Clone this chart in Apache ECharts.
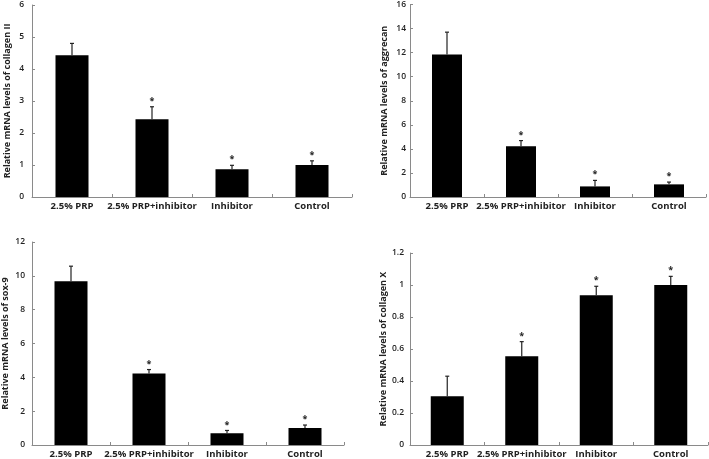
<!DOCTYPE html>
<html><head><meta charset="utf-8">
<script src="https://cdn.jsdelivr.net/npm/echarts@6/dist/echarts.min.js"></script>
<style>html,body{margin:0;padding:0;background:#fff}#c{width:709px;height:459px}</style>
</head><body><div id="c"></div>
<script>
const categories = ['2.5% PRP', '2.5% PRP+inhibitor', 'Inhibitor', 'Control'];

const collagenII = [4.43, 2.43, 0.87, 1.0];
const collagenIIErr = [0.37, 0.39, 0.12, 0.13];
const aggrecan = [11.85, 4.22, 0.88, 1.05];
const aggrecanErr = [1.85, 0.47, 0.50, 0.19];
const sox9 = [9.68, 4.22, 0.69, 1.0];
const sox9Err = [0.89, 0.24, 0.17, 0.18];
const collagenX = [0.305, 0.554, 0.936, 1.0];
const collagenXErr = [0.125, 0.092, 0.056, 0.054];
const significant = [false, true, true, true];

const yNames = ['Relative mRNA levels of collagen II', 'Relative mRNA levels of aggrecan',
                'Relative mRNA levels of sox-9', 'Relative mRNA levels of collagen X'];
const yMax = [6, 16, 12, 1.2];
const yInterval = [1, 2, 2, 0.2];

const panels = [
  {vals: collagenII, errs: collagenIIErr},
  {vals: aggrecan, errs: aggrecanErr},
  {vals: sox9, errs: sox9Err},
  {vals: collagenX, errs: collagenXErr}
];

const grids = [
  {left: 32, top: 5, width: 320, height: 192, nameGap: 20, labelMargin: 8, barWidth: 33},
  {left: 410, top: 3, width: 296, height: 194, nameGap: 21, labelMargin: 4, barWidth: 30},
  {left: 32, top: 242, width: 312, height: 204, nameGap: 22, labelMargin: 7, barWidth: 33},
  {left: 410, top: 253, width: 298, height: 193, nameGap: 21, labelMargin: 6, barWidth: 33}
];

const font = '"Open Sans", "Liberation Sans", sans-serif';
const axisColor = '#8a8a8a';

const option = {
  animation: false,
  backgroundColor: '#fff',
  grid: grids.map(g => ({left: g.left, top: g.top, width: g.width, height: g.height})),
  xAxis: grids.map((g, i) => ({
    type: 'category', gridIndex: i, data: categories,
    axisLine: {lineStyle: {color: axisColor, width: 1}},
    axisTick: {show: true, inside: true, length: 3, lineStyle: {color: axisColor}},
    axisLabel: {color: '#222', fontWeight: 'bold', fontSize: 9.5, fontFamily: font, margin: 4, interval: 0}
  })),
  yAxis: grids.map((g, i) => ({
    type: 'value', gridIndex: i, min: 0, max: yMax[i], interval: yInterval[i],
    name: yNames[i], nameLocation: 'middle', nameGap: g.nameGap, nameRotate: 90,
    nameTextStyle: {color: '#222', fontWeight: 'bold', fontSize: 9, fontFamily: font},
    splitLine: {show: false},
    axisLine: {show: true, lineStyle: {color: axisColor, width: 1}},
    axisTick: {show: true, inside: true, length: 3, lineStyle: {color: axisColor}},
    axisLabel: {color: '#222', fontSize: 8.5, fontWeight: 600, fontFamily: font, margin: g.labelMargin}
  })),
  series: []
};

panels.forEach((p, i) => {
  option.series.push({
    type: 'bar', xAxisIndex: i, yAxisIndex: i, data: p.vals,
    barWidth: grids[i].barWidth,
    itemStyle: {color: '#000'}
  });
  option.series.push({
    type: 'custom', xAxisIndex: i, yAxisIndex: i,
    data: p.vals.map((v, k) => [k, v, v + p.errs[k], significant[k] ? 1 : 0]),
    renderItem: function (params, api) {
      const base = api.coord([api.value(0), api.value(1)]);
      const top = api.coord([api.value(0), api.value(2)]);
      const children = [
        {type: 'line', shape: {x1: base[0], y1: base[1], x2: top[0], y2: top[1]}, style: {stroke: '#222', lineWidth: 1.2}},
        {type: 'line', shape: {x1: top[0] - 2, y1: top[1], x2: top[0] + 2, y2: top[1]}, style: {stroke: '#222', lineWidth: 1.2}}
      ];
      if (api.value(3)) {
        children.push({type: 'text', style: {text: '*', x: top[0], y: top[1] - 1, textAlign: 'center', textVerticalAlign: 'bottom', fontSize: 9, fontWeight: 'bold', fill: '#222', fontFamily: font}});
      }
      return {type: 'group', children: children};
    },
    z: 3
  });
});

const chart = echarts.init(document.getElementById('c'), null, {renderer: 'canvas'});
chart.setOption(option);
</script></body></html>
